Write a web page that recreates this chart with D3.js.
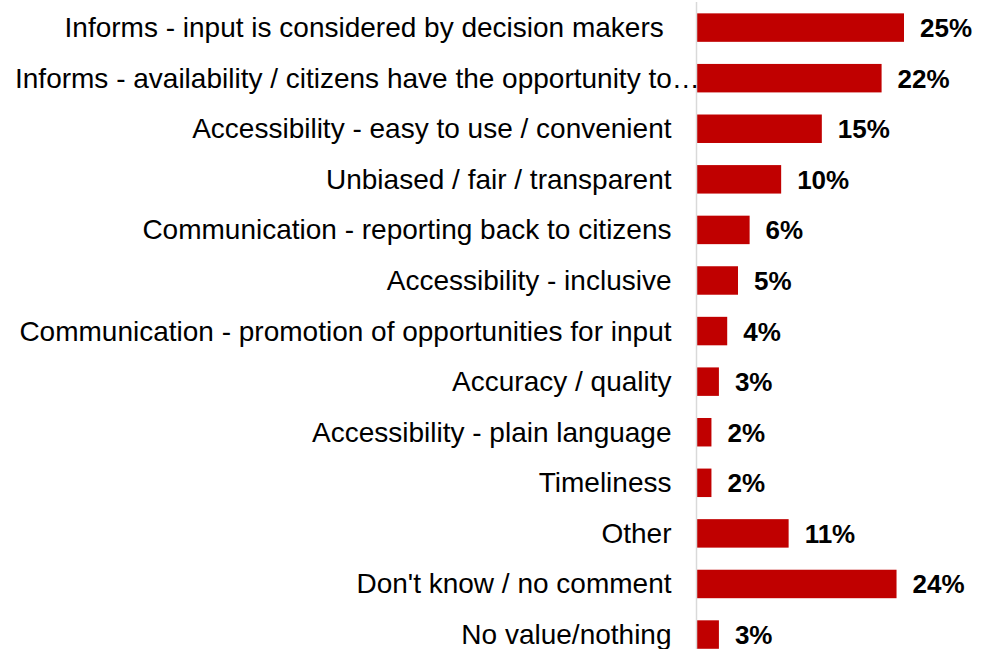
<!DOCTYPE html>
<html>
<head>
<meta charset="utf-8">
<script src="https://cdn.jsdelivr.net/npm/d3@7"></script>
<style>
  html, body { margin: 0; padding: 0; background: #ffffff; }
  svg { display: block; }
  text { font-family: "Liberation Sans", Arial, sans-serif; }
</style>
</head>
<body>
<svg id="chart" width="988" height="649"></svg>
<script>
const categories = [
  "Informs - input is considered by decision makers ",
  "Informs - availability / citizens have the opportunity to…",
  "Accessibility - easy to use / convenient",
  "Unbiased / fair / transparent",
  "Communication - reporting back to citizens",
  "Accessibility - inclusive",
  "Communication - promotion of opportunities for input",
  "Accuracy / quality",
  "Accessibility - plain language",
  "Timeliness",
  "Other",
  "Don't know / no comment",
  "No value/nothing"
];
const values = [25.0, 22.3, 15.1, 10.2, 6.4, 5.0, 3.7, 2.7, 1.8, 1.8, 11.1, 24.1, 2.7];
const xDomain = [0, 30];

const svg = d3.select("#chart");
const W = 988, H = 649;
const axisX = 696.5;
const leftMargin = 15;

const x = d3.scaleLinear().domain(xDomain).range([axisX, axisX + 249]);
const y = d3.scaleBand().domain(categories)
  .range([2.3, 2.3 + 13 * 50.58])
  .paddingInner(0.437).paddingOuter(0.2185);

const data = categories.map((c, i) => ({ cat: c, val: values[i] }));

// bars
svg.append("g").selectAll("rect").data(data).join("rect")
  .attr("x", x(0))
  .attr("y", d => y(d.cat))
  .attr("width", d => x(d.val) - x(0))
  .attr("height", y.bandwidth())
  .attr("fill", "#C00000");

// value labels
svg.append("g").selectAll("text").data(data).join("text")
  .attr("x", d => x(d.val) + 16)
  .attr("y", d => y(d.cat) + y.bandwidth() / 2 + 9.5)
  .attr("font-size", 26)
  .attr("font-weight", "bold")
  .attr("fill", "#000")
  .text(d => Math.round(d.val) + "%");

// category axis
const axis = d3.axisLeft(y).tickSize(0).tickPadding(25);
const gAxis = svg.append("g").attr("transform", `translate(${axisX},0)`).call(axis);
gAxis.select(".domain").attr("stroke", "#d9d9d9").attr("stroke-width", 1.5)
  .attr("d", `M0,2V${H}`);
gAxis.selectAll(".tick text")
  .attr("font-family", "'Liberation Sans', Arial, sans-serif")
  .attr("font-size", 28)
  .attr("fill", "#000")
  .attr("dy", null)
  .attr("y", 9.5)
  .style("white-space", "pre")
  .each(function() {
    const t = d3.select(this);
    const w = this.getComputedTextLength();
    const avail = axisX - 25 - leftMargin;
    if (w > avail) {
      t.attr("text-anchor", "start").attr("x", leftMargin - axisX);
    }
  });
</script>
</body>
</html>
